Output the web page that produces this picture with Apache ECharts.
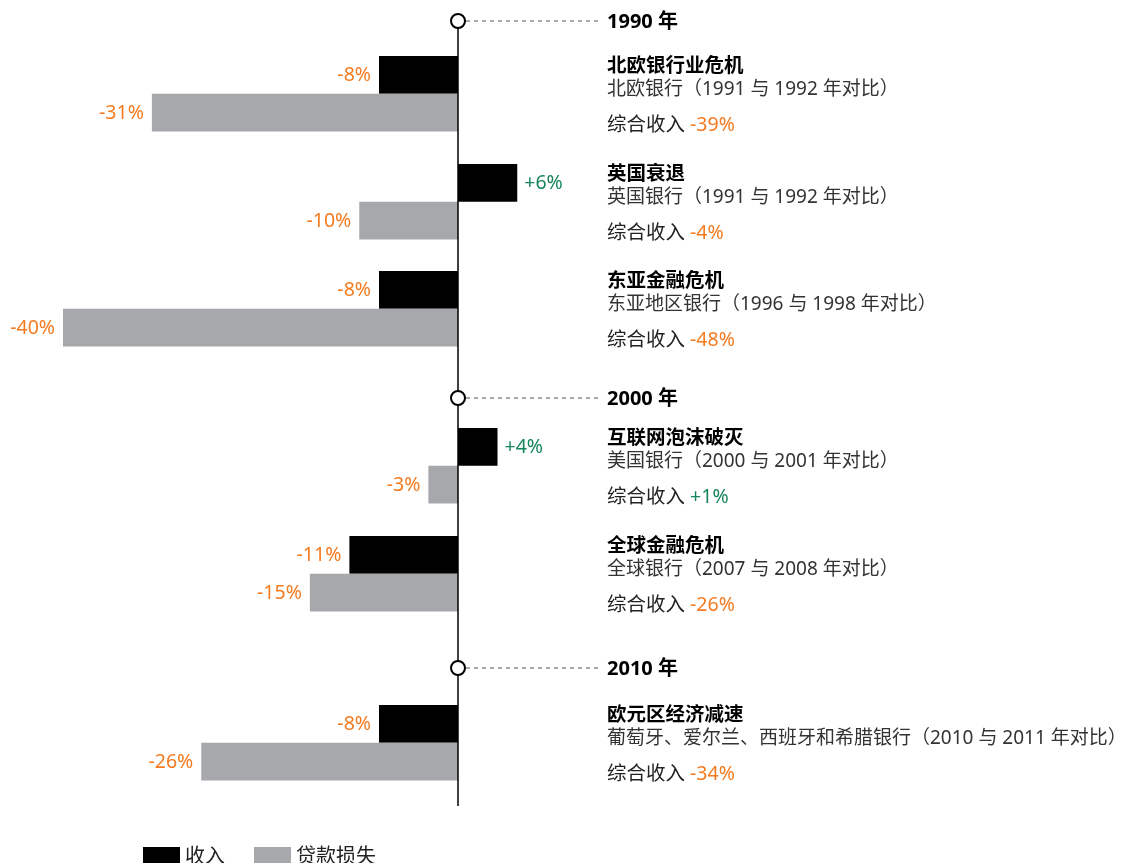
<!DOCTYPE html>
<html><head><meta charset="utf-8">
<script src="https://cdn.jsdelivr.net/npm/echarts@6/dist/echarts.min.js"></script>
<style>html,body{margin:0;padding:0;background:#fff}#c{width:1121px;height:863px}</style>
</head><body><div id="c"></div>
<script>
// ---- data ----
const eventTitles = ['北欧银行业危机', '英国衰退', '东亚金融危机', '互联网泡沫破灭', '全球金融危机', '欧元区经济减速'];
const eventSubtitles = [
  '北欧银行（1991 与 1992 年对比）',
  '英国银行（1991 与 1992 年对比）',
  '东亚地区银行（1996 与 1998 年对比）',
  '美国银行（2000 与 2001 年对比）',
  '全球银行（2007 与 2008 年对比）',
  '葡萄牙、爱尔兰、西班牙和希腊银行（2010 与 2011 年对比）'
];
const revenue = [-8, 6, -8, 4, -11, -8];
const loanLoss = [-31, -10, -40, -3, -15, -26];
const combinedIncome = [-39, -4, -48, 1, -26, -34];
const yearLabels = ['1990 年', '2000 年', '2010 年'];
const seriesNames = ['收入', '贷款损失'];
const combinedLabel = '综合收入';

// ---- layout (vertical slots, in px-like axis units) ----
const eventTop = [56, 164, 271, 428, 536, 705];
const yearPos = [21, 398, 668];
const BAR_H = 37.7;
const AXIS_END = 806;
const TEXT_OFFSET = 149;

const ORANGE = '#f47b20';
const GREEN = '#16855a';
const FONT = '"Noto Sans", "Noto Sans CJK SC", sans-serif';

function fmt(v) { return (v > 0 ? '+' : '') + v + '%'; }

function barRender(params, api) {
  const v = api.value(0), y = api.value(1);
  const p0 = api.coord([0, y]);
  const p1 = api.coord([v, y + BAR_H]);
  const x0 = Math.min(p0[0], p1[0]);
  const w = Math.abs(p1[0] - p0[0]);
  return {
    type: 'group',
    children: [
      { type: 'rect', shape: { x: x0, y: p0[1], width: w, height: p1[1] - p0[1] }, style: { fill: api.visual('color') } },
      { type: 'text', style: {
          text: fmt(v), x: v < 0 ? x0 - 8 : x0 + w + 7, y: (p0[1] + p1[1]) / 2 + 1,
          align: v < 0 ? 'right' : 'left', verticalAlign: 'middle',
          fill: v < 0 ? ORANGE : GREEN, font: '19.5px ' + FONT } }
    ]
  };
}

function eventTextRender(params, api) {
  const i = params.dataIndex;
  const y = api.value(0);
  const p = api.coord([0, y]);
  const x = p[0] + TEXT_OFFSET;
  const c = combinedIncome[i];
  return {
    type: 'group',
    children: [
      { type: 'text', style: { text: eventTitles[i], x: x, y: p[1] + 10, verticalAlign: 'middle', fill: '#000', font: 'bold 19.5px ' + FONT } },
      { type: 'text', style: { text: eventSubtitles[i], x: x, y: p[1] + 34, verticalAlign: 'middle', fill: '#333', font: '19px ' + FONT } },
      { type: 'text', style: {
          text: '{a|' + combinedLabel + ' }{b|' + fmt(c) + '}', x: x, y: p[1] + 69, verticalAlign: 'middle',
          rich: {
            a: { fill: '#222', font: '19.5px ' + FONT },
            b: { fill: c < 0 ? ORANGE : GREEN, font: '19.5px ' + FONT }
          } } }
    ]
  };
}

function markerRender(params, api) {
  const i = params.dataIndex;
  const y = api.value(0);
  const p = api.coord([0, y]);
  const children = [];
  if (i === 0) {
    const pe = api.coord([0, AXIS_END]);
    children.push({ type: 'line', shape: { x1: p[0], y1: p[1], x2: pe[0], y2: pe[1] }, style: { stroke: '#000', lineWidth: 1.5 } });
  }
  children.push({ type: 'line', shape: { x1: p[0] + 8, y1: p[1], x2: p[0] + 141, y2: p[1] }, style: { stroke: '#555', lineWidth: 1, lineDash: [4, 4] } });
  children.push({ type: 'circle', shape: { cx: p[0], cy: p[1], r: 7 }, style: { fill: '#fff', stroke: '#000', lineWidth: 2 } });
  children.push({ type: 'text', style: { text: yearLabels[i], x: p[0] + TEXT_OFFSET, y: p[1] + 1, verticalAlign: 'middle', fill: '#000', font: 'bold 20px ' + FONT } });
  return { type: 'group', children: children };
}

const chart = echarts.init(document.getElementById('c'), null, { renderer: 'canvas' });
chart.setOption({
  animation: false,
  grid: { left: 63, width: 592.5, top: 0, height: 863 },
  xAxis: { type: 'value', min: -40, max: 20, show: false },
  yAxis: { type: 'value', min: 0, max: 863, inverse: true, show: false },
  legend: {
    data: seriesNames,
    left: 138, top: 842,
    icon: 'rect', itemWidth: 37, itemHeight: 20, itemGap: 29,
    textStyle: { fontSize: 20, lineHeight: 20, color: '#222', fontFamily: FONT }
  },
  series: [
    { name: seriesNames[0], type: 'custom', renderItem: barRender, itemStyle: { color: '#000' },
      data: revenue.map((v, i) => [v, eventTop[i]]), z: 2 },
    { name: seriesNames[1], type: 'custom', renderItem: barRender, itemStyle: { color: '#a7a8ab' },
      data: loanLoss.map((v, i) => [v, eventTop[i] + BAR_H]), z: 2 },
    { type: 'custom', renderItem: eventTextRender, data: eventTop.map(v => [v]), z: 3, silent: true },
    { type: 'custom', renderItem: markerRender, data: yearPos.map(v => [v]), z: 4, silent: true }
  ]
});
</script>
</body></html>
